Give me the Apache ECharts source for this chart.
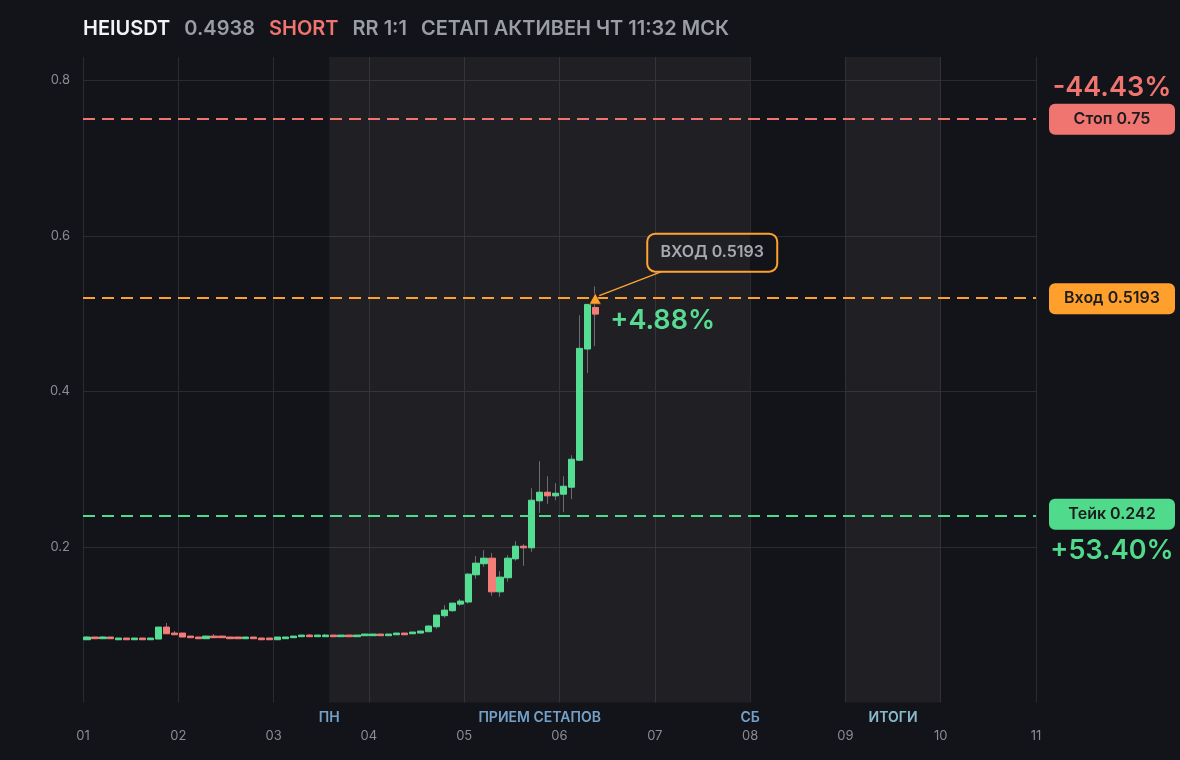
<!DOCTYPE html>
<html><head><meta charset="utf-8">
<script src="https://cdn.jsdelivr.net/npm/echarts@6/dist/echarts.min.js"></script>
<style>html,body{margin:0;padding:0;background:#131419;}#c{width:1180px;height:760px;}</style>
</head><body><div id="c"></div>
<script>
// ---- header texts ----
const ticker = 'HEIUSDT';
const lastPrice = '0.4938';
const side = 'SHORT';
const rrText = 'RR 1:1';
const statusText = 'СЕТАП АКТИВЕН ЧТ 11:32 МСК';

// ---- x axis ----
const xTickLabels = ['01','02','03','04','05','06','07','08','09','10','11'];
const firstDay = 1;
const candlesPerDay = 12;

// ---- candles (2h) ----
const opens  = [0.0807,0.0842,0.0820,0.0842,0.0807,0.0829,0.0807,0.0829,0.0807,0.0816,
                0.0970,0.0893,0.0893,0.0854,0.0842,0.0820,0.0854,0.0854,0.0842,0.0842,
                0.0820,0.0842,0.0829,0.0829,0.0807,0.0820,0.0833,0.0846,0.0867,0.0846,
                0.0846,0.0867,0.0846,0.0867,0.0846,0.0859,0.0859,0.0880,0.0859,0.0871,
                0.0893,0.0884,0.0893,0.0910,0.0974,0.1116,0.1180,0.1265,0.1292,0.1642,
                0.1784,0.1856,0.1423,0.1604,0.1847,0.2010,0.1989,0.2593,0.2704,0.2657,
                0.2678,0.2768,0.3115,0.4545,0.5080];
const closes = [0.0842,0.0820,0.0842,0.0820,0.0829,0.0807,0.0829,0.0807,0.0829,0.0970,
                0.0884,0.0871,0.0842,0.0833,0.0820,0.0854,0.0833,0.0833,0.0820,0.0820,
                0.0842,0.0820,0.0807,0.0807,0.0842,0.0842,0.0854,0.0867,0.0846,0.0867,
                0.0867,0.0846,0.0867,0.0846,0.0867,0.0880,0.0880,0.0859,0.0880,0.0893,
                0.0871,0.0906,0.0919,0.0983,0.1124,0.1188,0.1278,0.1304,0.1651,0.1792,
                0.1856,0.1423,0.1612,0.1856,0.2010,0.1989,0.2601,0.2704,0.2657,0.2691,
                0.2781,0.3128,0.4554,0.5119,0.4994];
const lows   = [0.0807,0.0820,0.0820,0.0820,0.0807,0.0807,0.0807,0.0807,0.0807,0.0816,
                0.0884,0.0871,0.0842,0.0833,0.0820,0.0820,0.0833,0.0833,0.0820,0.0820,
                0.0820,0.0820,0.0807,0.0807,0.0807,0.0820,0.0833,0.0846,0.0846,0.0846,
                0.0846,0.0846,0.0846,0.0846,0.0846,0.0859,0.0859,0.0859,0.0859,0.0871,
                0.0871,0.0884,0.0893,0.0910,0.0948,0.1090,0.1167,0.1242,0.1271,0.1590,
                0.1744,0.1372,0.1359,0.1553,0.1822,0.1757,0.1937,0.2438,0.2554,0.2601,
                0.2447,0.2614,0.3115,0.4237,0.4583];
const highs  = [0.0854,0.0842,0.0854,0.0842,0.0829,0.0829,0.0829,0.0829,0.0829,0.0970,
                0.1022,0.0919,0.0893,0.0854,0.0842,0.0854,0.0880,0.0854,0.0842,0.0842,
                0.0842,0.0842,0.0829,0.0829,0.0842,0.0842,0.0854,0.0867,0.0880,0.0867,
                0.0880,0.0867,0.0867,0.0867,0.0867,0.0880,0.0880,0.0880,0.0880,0.0893,
                0.0893,0.0906,0.0919,0.0996,0.1124,0.1252,0.1278,0.1330,0.1663,0.1882,
                0.1959,0.1920,0.1689,0.1895,0.2075,0.2036,0.2755,0.3102,0.2909,0.2820,
                0.2909,0.3179,0.4978,0.5119,0.5350];

// ---- setup levels ----
const stopPrice = 0.75, entryPrice = 0.5193, takePrice = 0.242;
const stopLabel = 'Стоп 0.75', entryLabel = 'Вход 0.5193', takeLabel = 'Тейк 0.242';
const entryNote = 'ВХОД 0.5193';
const stopPct = '-44.43%', takePct = '+53.40%', livePct = '+4.88%';
const entryCandleIndex = 64;

// ---- session bands ----
const bandStarts = [3.5833, 9];
const bandEnds   = [8, 10];
const bandLabelNames = ['ПН', 'ПРИЕМ СЕТАПОВ', 'СБ', 'ИТОГИ'];
const bandLabelX     = [3.5833, 5.7917, 8, 9.5];

// ---- colors ----
const C = {
  bg:'#131419', grid:'#2a2b30', axisText:'#8a8d95', up:'#56dd94', down:'#f47d78', wick:'#6a6d74',
  stop:'#f07470', entry:'#ff9f2c', take:'#50da8c', note:'#a3a6ae', band:'rgba(255,255,255,0.052)',
  bandText:['#8cc4f6','#8cc4f6','#8cc4f6','#a8e4f8']
};
const FONT = 'Inter, "Noto Sans", sans-serif';

const xOf = i => firstDay + (i + 0.5) / candlesPerDay;
const wickData = opens.map((o, i) => [xOf(i), o, closes[i], lows[i], highs[i]]);
const bodyData = opens.map((o, i) => [xOf(i), o, closes[i], Math.min(o, closes[i]), Math.max(o, closes[i])]);

const chart = echarts.init(document.getElementById('c'), null, {renderer:'canvas'});

const option = {
  backgroundColor: C.bg,
  animation: false,
  title: {
    left: 83, top: 19, padding: 0,
    text: `{a|${ticker}}{b|${lastPrice}}{c|${side}}{b|${rrText}}{d|${statusText}}`,
    textStyle: {
      rich: {
        a: {color:'#f2f3f5', fontSize:20, fontWeight:600, fontFamily:FONT, padding:[0,14,0,0]},
        b: {color:'#9a9da5', fontSize:20, fontWeight:600, fontFamily:FONT, padding:[0,14,0,0]},
        c: {color:C.stop, fontSize:20, fontWeight:600, fontFamily:FONT, padding:[0,14,0,0]},
        d: {color:'#9a9da5', fontSize:20, fontWeight:600, fontFamily:FONT}
      }
    }
  },
  grid: {left:83, right:144, top:57, bottom:57.5, containLabel:false},
  xAxis: {
    type:'value', min:1, max:11, interval:1,
    axisLine:{show:false}, axisTick:{show:false},
    axisLabel:{color:C.axisText, fontSize:13, fontFamily:FONT, margin:27,
      formatter: v => xTickLabels[Math.round(v) - 1] || ''},
    splitLine:{show:true, lineStyle:{color:C.grid, width:1}}
  },
  yAxis: {
    type:'value', min:0, max:0.83, interval:0.2,
    axisLine:{show:false}, axisTick:{show:false},
    axisLabel:{color:C.axisText, fontSize:13, fontFamily:FONT, margin:13,
      formatter: v => v === 0 ? '' : v.toFixed(1), showMaxLabel:false},
    splitLine:{show:true, showMinLine:false, showMaxLine:false, lineStyle:{color:C.grid, width:1}}
  },
  series: [
    {
      type:'candlestick', name:'wick', data:wickData,
      encode:{x:0, y:[1,2,3,4]},
      barWidth:1,
      itemStyle:{color:C.wick, color0:C.wick, borderColor:C.wick, borderColor0:C.wick, borderWidth:1},
      silent:true, z:2,
      markArea:{
        silent:true,
        itemStyle:{color:C.band},
        data: bandStarts.map((s, k) => [{xAxis:s}, {xAxis:bandEnds[k]}])
      }
    },
    {
      type:'candlestick', name:'body', data:bodyData,
      encode:{x:0, y:[1,2,3,4]},
      barWidth:6.8,
      itemStyle:{color:C.up, color0:C.down, borderColor:C.up, borderColor0:C.down, borderWidth:1},
      silent:true, z:3,
      markLine:{
        silent:true, symbol:['none','none'],
        label:{show:false},
        data:[
          {yAxis:stopPrice,  lineStyle:{color:C.stop,  width:2, type:[12,7]}},
          {yAxis:entryPrice, lineStyle:{color:C.entry, width:2, type:[12,7]}},
          {yAxis:takePrice,  lineStyle:{color:C.take,  width:2, type:[12,7]}}
        ]
      },
      markPoint:{
        silent:true,
        data:[{coord:[xOf(entryCandleIndex), entryPrice], symbol:'triangle', symbolSize:[12,11],
               itemStyle:{color:C.entry, borderColor:'#131419', borderWidth:0.5}, label:{show:false}}]
      }
    },
    {
      type:'scatter', name:'bandLabels', silent:true, clip:false, symbolSize:0,
      data: bandLabelX.map((x, k) => ({
        value:[x, 0], name:bandLabelNames[k],
        label:{show:true, position:'bottom', distance:8, formatter:'{b}', color:C.bandText[k],
               fontSize:14, fontWeight:600, fontFamily:FONT}
      }))
    }
  ]
};
chart.setOption(option);

// overlays anchored to data coordinates
const gridRightX = v => chart.convertToPixel({gridIndex:0}, [11, v]);
const ps = gridRightX(stopPrice), pe = gridRightX(entryPrice), pt = gridRightX(takePrice);
const pEntry = chart.convertToPixel({gridIndex:0}, [xOf(entryCandleIndex), entryPrice]);

function tag(p, text, fill) {
  return {
    type:'group', children:[
      {type:'rect', shape:{x:p[0]+13, y:p[1]-15.5, width:126, height:31, r:6}, style:{fill:fill}},
      {type:'text', x:p[0]+13+63, y:p[1], style:{text:text, fill:'#1c1c1f', font:`600 16px ${FONT}`,
        align:'center', verticalAlign:'middle'}}
    ]
  };
}
chart.setOption({
  graphic: [
    tag(ps, stopLabel, C.stop),
    tag(pe, entryLabel, C.entry),
    tag(pt, takeLabel, C.take),
    {type:'text', x:ps[0]+76, y:ps[1]-31, style:{text:stopPct, fill:C.stop, font:`600 27px ${FONT}`, align:'center', verticalAlign:'middle'}},
    {type:'text', x:pt[0]+76, y:pt[1]+37, style:{text:takePct, fill:C.take, font:`600 27px ${FONT}`, align:'center', verticalAlign:'middle'}},
    {type:'line', shape:{x1:pEntry[0]+4, y1:pEntry[1]-3, x2:pEntry[0]+69, y2:pEntry[1]-28}, style:{stroke:C.entry, lineWidth:1.3}},
    {type:'rect', shape:{x:pEntry[0]+52, y:pEntry[1]-65, width:130, height:38, r:8}, style:{fill:C.bg, stroke:C.entry, lineWidth:2}},
    {type:'text', x:pEntry[0]+117, y:pEntry[1]-46, style:{text:entryNote, fill:C.note, font:`600 16px ${FONT}`, align:'center', verticalAlign:'middle'}},
    {type:'text', x:pEntry[0]+15, y:pEntry[1]+22, style:{text:livePct, fill:C.take, font:`600 27px ${FONT}`, align:'left', verticalAlign:'middle'}}
  ]
});
</script>
</body></html>
